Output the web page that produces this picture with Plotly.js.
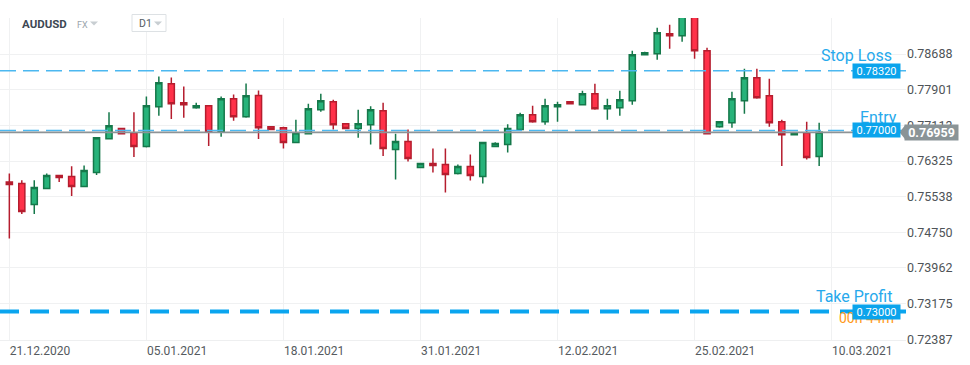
<!DOCTYPE html>
<html>
<head>
<meta charset="utf-8">
<script src="https://cdn.plot.ly/plotly-3.0.1.min.js"></script>
<style>
  html, body { margin: 0; padding: 0; background: #ffffff; }
  #chart { width: 970px; height: 365px; }
</style>
</head>
<body>
<div id="chart"></div>
<script>
// ---- Data (AUDUSD, D1) ----
const dates = [
  "21.12.2020","22.12.2020","23.12.2020","24.12.2020","27.12.2020","28.12.2020","29.12.2020","30.12.2020","31.12.2020",
  "03.01.2021","04.01.2021","05.01.2021","06.01.2021","07.01.2021","08.01.2021","10.01.2021","11.01.2021","12.01.2021",
  "13.01.2021","14.01.2021","15.01.2021","17.01.2021","18.01.2021","19.01.2021","20.01.2021","21.01.2021","22.01.2021",
  "24.01.2021","25.01.2021","26.01.2021","27.01.2021","28.01.2021","29.01.2021","31.01.2021","01.02.2021","02.02.2021",
  "03.02.2021","04.02.2021","05.02.2021","07.02.2021","08.02.2021","09.02.2021","10.02.2021","11.02.2021","12.02.2021",
  "14.02.2021","15.02.2021","16.02.2021","17.02.2021","18.02.2021","19.02.2021","21.02.2021","22.02.2021","23.02.2021",
  "24.02.2021","25.02.2021","26.02.2021","28.02.2021","01.03.2021","02.03.2021","03.03.2021","04.03.2021","05.03.2021",
  "07.03.2021","08.03.2021","09.03.2021"
];
const openP = [
  0.75863,0.75827,0.75364,0.75717,0.76004,0.75982,0.75761,0.76070,0.76820,
  0.77041,0.76952,0.76644,0.77526,0.78033,0.77614,0.77504,0.77548,0.76975,
  0.77703,0.77305,0.77775,0.77085,0.77063,0.76732,0.76930,0.77460,0.77636,
  0.77151,0.77041,0.77129,0.77438,0.76577,0.76754,0.76180,0.76269,0.76246,
  0.76048,0.76202,0.75982,0.76644,0.76688,0.77019,0.77350,0.77195,0.77526,
  0.77636,0.77570,0.77813,0.77482,0.77504,0.77658,0.78673,0.78695,0.79136,
  0.79092,0.79680,0.78761,0.77085,0.77173,0.77658,0.78166,0.77769,0.77195,
  0.76908,0.76952,0.76423
];
const highP = [
  0.76048,0.75900,0.75900,0.76048,0.76004,0.76209,0.76224,0.76842,0.77400,
  0.77041,0.77400,0.77753,0.78194,0.78172,0.77974,0.77614,0.77548,0.77753,
  0.77797,0.78040,0.77886,0.77085,0.77085,0.77239,0.77592,0.77813,0.77680,
  0.77151,0.77460,0.77533,0.77614,0.76930,0.77019,0.76269,0.76600,0.76600,
  0.76246,0.76467,0.76732,0.76738,0.77136,0.77394,0.77548,0.77703,0.77636,
  0.77636,0.77879,0.78033,0.77703,0.77879,0.78761,0.78739,0.79269,0.79335,
  0.79755,0.80070,0.78828,0.77195,0.77857,0.78364,0.78364,0.78144,0.77239,
  0.76952,0.77195,0.77173
];
const lowP = [
  0.74614,0.75157,0.75157,0.75717,0.75863,0.75554,0.75761,0.76017,0.76820,
  0.76930,0.76414,0.76622,0.77327,0.77252,0.77283,0.77482,0.76657,0.76864,
  0.77217,0.77283,0.76811,0.77019,0.76600,0.76732,0.76930,0.77416,0.77019,
  0.77041,0.76842,0.76688,0.76436,0.75916,0.76313,0.76180,0.76070,0.75629,
  0.76026,0.75894,0.75827,0.76644,0.76511,0.77019,0.77173,0.77129,0.77195,
  0.77592,0.77570,0.77460,0.77239,0.77327,0.77570,0.78673,0.78563,0.78806,
  0.78960,0.78585,0.76926,0.77063,0.77063,0.77372,0.77703,0.77085,0.76215,
  0.76908,0.76357,0.76215
];
const closeP = [
  0.75805,0.75210,0.75739,0.76004,0.75960,0.75761,0.76114,0.76842,0.77107,
  0.76930,0.76644,0.77548,0.78056,0.77592,0.77570,0.77548,0.76975,0.77703,
  0.77305,0.77769,0.77063,0.77019,0.76732,0.76952,0.77482,0.77658,0.77129,
  0.77041,0.77151,0.77460,0.76600,0.76754,0.76379,0.76269,0.76224,0.76026,
  0.76202,0.76004,0.76732,0.76710,0.77041,0.77350,0.77195,0.77548,0.77570,
  0.77592,0.77813,0.77482,0.77548,0.77680,0.78673,0.78717,0.79158,0.79092,
  0.79680,0.78761,0.76926,0.77195,0.77703,0.78166,0.77725,0.77173,0.76908,
  0.76952,0.76401,0.76959
];
const xTickLabels = ["21.12.2020","05.01.2021","18.01.2021","31.01.2021","12.02.2021","25.02.2021","10.03.2021"];
const xTickIndex  = [0, 11, 22, 33, 44, 55, 66];
const yTickVals = [0.72387,0.73175,0.73962,0.74750,0.75538,0.76325,0.77113,0.77901,0.78688];

const stopLoss = 0.78320;
const entryPrice = 0.77000;
const takeProfit = 0.73000;
const lastPrice = 0.76959;

// ---- Layout helpers (pixel -> paper) ----
const PL = 0, PR = 906, PT = 17.5, PB = 340;
const px = x => (x - PL) / (PR - PL);
const py = y => (PB - y) / (PB - PT);

const xIdx = dates.map((d, i) => i);
const FONT = "Roboto, 'Open Sans', Arial, sans-serif";
const BLUE = "#1fa6ee";

const trace = {
  type: "candlestick",
  x: xIdx, open: openP, high: highP, low: lowP, close: closeP,
  text: dates,
  increasing: { line: { color: "#15784a", width: 1.5 }, fillcolor: "#27b37a" },
  decreasing: { line: { color: "#b51d2e", width: 1.5 }, fillcolor: "#ff3149" },
  whiskerwidth: 0,
  hoverinfo: "skip",
  showlegend: false
};

const tri = (x0, x1, yc, yh) => `M ${px(x0)} ${py(yh)} L ${px(x1)} ${py(yh)} L ${px((x0 + x1) / 2)} ${py(yc)} Z`;

const shapes = [
  { type: "line", xref: "paper", x0: 0, x1: 1, yref: "y", y0: stopLoss, y1: stopLoss, layer: "above",
    line: { color: "#4cb8f0", width: 1.6, dash: "16px,7px" } },
  { type: "line", xref: "paper", x0: 0, x1: 1, yref: "y", y0: entryPrice, y1: entryPrice, layer: "above",
    line: { color: "#4cb8f0", width: 1.6, dash: "16px,7px" } },
  { type: "line", xref: "paper", x0: 0, x1: px(900), yref: "y", y0: lastPrice, y1: lastPrice, layer: "above",
    line: { color: "#8d9396", width: 1.6 } },
  { type: "line", xref: "paper", x0: 0, x1: 1, yref: "y", y0: takeProfit, y1: takeProfit, layer: "above",
    line: { color: "#0aa5ef", width: 4, dash: "19px,11px" } },
  // current price pointer
  { type: "path", xref: "paper", yref: "y", xsizemode: "pixel", ysizemode: "pixel",
    xanchor: px(905), yanchor: lastPrice, path: "M -5.5 0 L 0.5 7.5 L 0.5 -7.5 Z",
    fillcolor: "#8a9497", line: { width: 0 }, layer: "above" },
  // header: D1 box and dropdown arrows
  { type: "rect", xref: "paper", yref: "paper", x0: px(132), x1: px(166), y0: py(31), y1: py(14),
    fillcolor: "#ffffff", line: { color: "#dde1e4", width: 1 }, layer: "above" },
  { type: "path", xref: "paper", yref: "paper", path: tri(90, 98, 25, 21), fillcolor: "#c8ced2", line: { width: 0 }, layer: "above" },
  { type: "path", xref: "paper", yref: "paper", path: tri(154, 162, 25, 21), fillcolor: "#c8ced2", line: { width: 0 }, layer: "above" }
];

const tagBox = (val) => ({
  xref: "paper", yref: "y", x: px(876.5), y: val, xanchor: "center", yanchor: "middle",
  text: val.toFixed(5), showarrow: false, bgcolor: "#0ba4ec", borderpad: 1, width: 45, height: 12,
  font: { family: FONT, size: 11, color: "#ffffff" }
});
const lineLabel = (txt, xr, ypx) => ({
  xref: "paper", yref: "paper", x: px(xr), y: py(ypx), xanchor: "right", yanchor: "middle",
  text: txt, showarrow: false, font: { family: FONT, size: 16, color: "#27a9ec" }
});

const annotations = [
  { xref: "paper", yref: "paper", x: px(20), y: py(24), xanchor: "left", yanchor: "middle", showarrow: false,
    text: "<b>AUDUSD</b>", font: { family: FONT, size: 11.5, color: "#3d4853" } },
  { xref: "paper", yref: "paper", x: px(75), y: py(24.5), xanchor: "left", yanchor: "middle", showarrow: false,
    text: "FX", font: { family: FONT, size: 9, color: "#9aa4ab" } },
  { xref: "paper", yref: "paper", x: px(137), y: py(23), xanchor: "left", yanchor: "middle", showarrow: false,
    text: "D1", font: { family: FONT, size: 10.5, color: "#555d63" } },
  lineLabel("Stop Loss", 894, 55),
  lineLabel("Entry", 899, 117),
  lineLabel("Take Profit", 894, 296),
  { xref: "paper", yref: "paper", x: px(866), y: py(318), xanchor: "center", yanchor: "middle", showarrow: false,
    text: "00h 44m", font: { family: FONT, size: 14, color: "#ff9a1a" } },
  tagBox(stopLoss),
  tagBox(entryPrice),
  tagBox(takeProfit),
  { xref: "paper", yref: "y", x: px(931.5), y: lastPrice, xanchor: "center", yanchor: "middle",
    text: "<b>" + lastPrice.toFixed(5) + "</b>", showarrow: false, bgcolor: "#8a9497", borderpad: 1,
    width: 51, height: 13, font: { family: FONT, size: 12.5, color: "#ffffff" } }
];

const layout = {
  width: 970, height: 365,
  margin: { l: PL, r: 970 - PR, t: PT, b: 365 - PB, pad: 0 },
  paper_bgcolor: "#ffffff", plot_bgcolor: "#ffffff",
  showlegend: false,
  dragmode: false,
  xaxis: {
    type: "linear",
    range: [-0.75, 71.97],
    tickmode: "array", tickvals: xTickIndex, ticktext: xTickLabels,
    ticks: "", showgrid: true, gridcolor: "#f0f1f2", gridwidth: 1,
    zeroline: false, showline: true, linecolor: "#eeeff0", linewidth: 1,
    tickfont: { family: FONT, size: 12, color: "#555a5e" },
    ticklabelposition: "outside right",
    rangeslider: { visible: false },
    fixedrange: true
  },
  yaxis: {
    side: "right",
    range: [0.72371, 0.79485],
    tickmode: "array", tickvals: yTickVals, ticktext: yTickVals.map(v => v.toFixed(5)),
    ticks: "", showgrid: true, gridcolor: "#f0f1f2", gridwidth: 1,
    zeroline: false, showline: false,
    tickfont: { family: FONT, size: 12.5, color: "#4e5357" },
    fixedrange: true
  },
  shapes: shapes,
  annotations: annotations
};

Plotly.newPlot("chart", [trace], layout, { displayModeBar: false, staticPlot: true });
</script>
</body>
</html>
